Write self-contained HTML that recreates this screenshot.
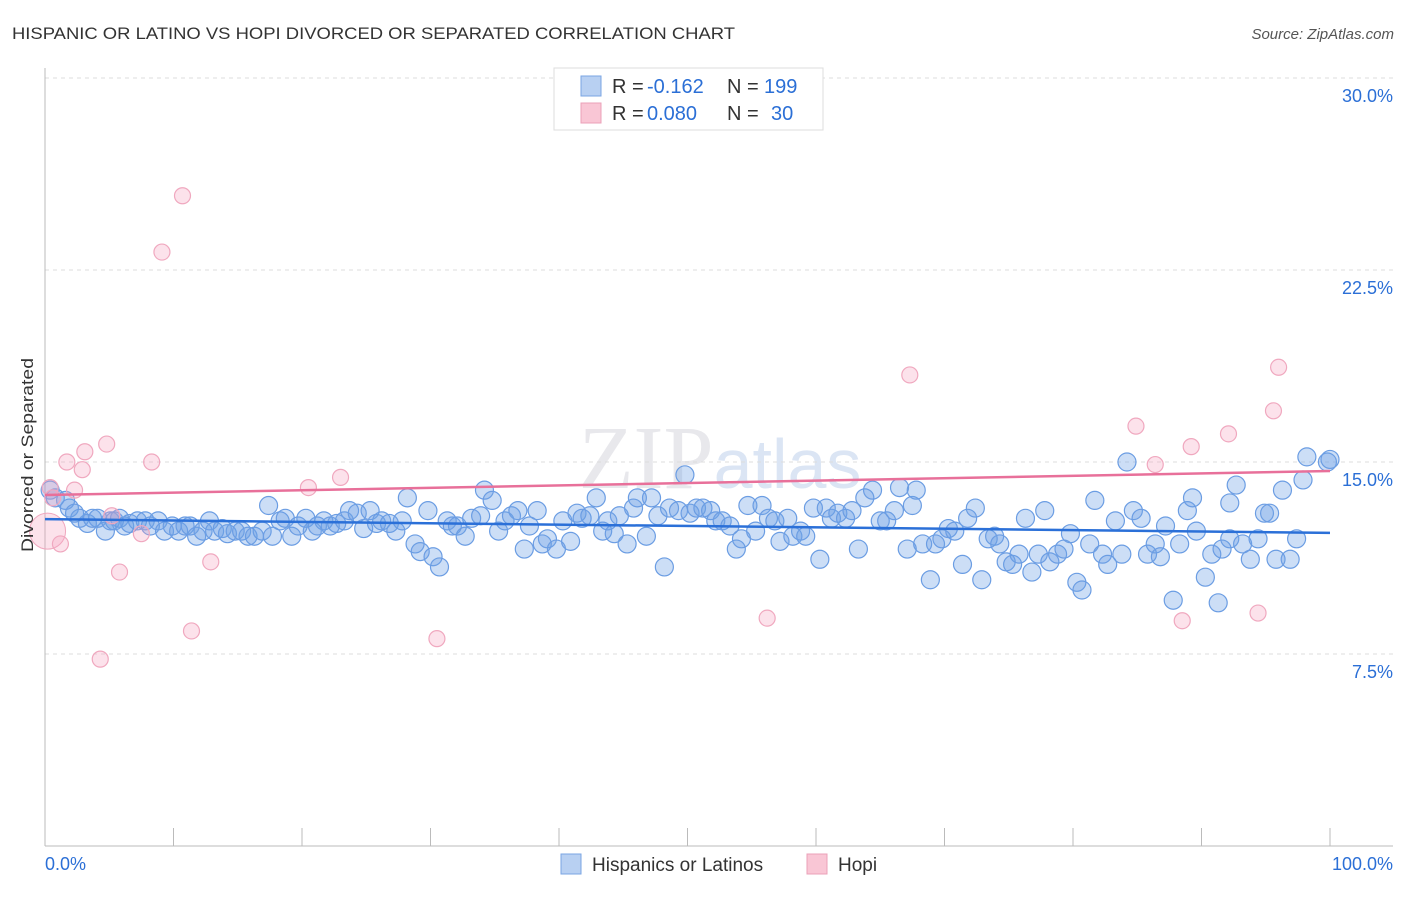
<!DOCTYPE html>
<html><head><meta charset="utf-8"><style>
body{margin:0;background:#fff;font-family:"Liberation Sans",sans-serif;}
</style></head><body>
<svg width="1406" height="892" xmlns="http://www.w3.org/2000/svg" style="font-family:'Liberation Sans',sans-serif">
<text x="12" y="39" font-size="17" fill="#333" textLength="723" lengthAdjust="spacingAndGlyphs">HISPANIC OR LATINO VS HOPI DIVORCED OR SEPARATED CORRELATION CHART</text>
<text x="1394" y="39" font-size="15" fill="#555" text-anchor="end" font-style="italic">Source: ZipAtlas.com</text>
<text x="720" y="488" font-size="90" fill="#e8e8ec" text-anchor="middle" font-family="Liberation Serif">ZIP<tspan fill="#dbe5f4" font-family="Liberation Sans" font-size="70">atlas</tspan></text>
<g id="grid"></g>
<g id="axes"></g>
<g id="pts"></g>
<g id="lines"></g>
<text x="33" y="455" font-size="17" fill="#333" text-anchor="middle" transform="rotate(-90 33 455)" textLength="194" lengthAdjust="spacingAndGlyphs">Divorced or Separated</text>
<g>
<rect x="554" y="68" width="269" height="62" fill="#fff" stroke="#ddd"/>
<rect x="581" y="76" width="20" height="20" fill="#b8d0f2" stroke="#7aa5e3"/>
<rect x="581" y="103" width="20" height="20" fill="#f9c6d5" stroke="#eba0b8"/>
<text x="612" y="93" font-size="20" fill="#333">R =</text>
<text x="647" y="93" font-size="20" fill="#2b6fd6">-0.162</text>
<text x="727" y="93" font-size="20" fill="#333">N =</text>
<text x="764" y="93" font-size="20" fill="#2b6fd6">199</text>
<text x="612" y="120" font-size="20" fill="#333">R =</text>
<text x="647" y="120" font-size="20" fill="#2b6fd6">0.080</text>
<text x="727" y="120" font-size="20" fill="#333">N =</text>
<text x="771" y="120" font-size="20" fill="#2b6fd6">30</text>
</g>
<g>
<rect x="561" y="854" width="20" height="20" fill="#b8d0f2" stroke="#7aa5e3"/>
<text x="592" y="871" font-size="19" fill="#333">Hispanics or Latinos</text>
<rect x="807" y="854" width="20" height="20" fill="#f9c6d5" stroke="#eba0b8"/>
<text x="838" y="871" font-size="19" fill="#333">Hopi</text>
</g>
</svg>
<script>
const yTicks=[7.5,15,22.5,30];
const yTickLabels=["7.5%","15.0%","22.5%","30.0%"];
const xTickLabels=["0.0%","100.0%"];
const blueX=[0.4,0.8,1.6,1.9,2.3,2.7,3.3,3.7,4.1,4.7,5.1,5.4,5.8,6.2,6.6,7.2,7.8,8.2,8.8,9.3,9.9,10.4,10.9,11.3,11.8,12.3,12.8,13.2,13.8,14.2,14.8,15.3,15.8,16.3,16.9,17.4,17.7,18.3,18.7,19.2,19.7,20.3,20.8,21.2,21.7,22.2,22.7,23.3,23.7,24.3,24.8,25.3,25.8,26.2,26.8,27.3,27.8,28.2,28.8,29.2,29.8,30.2,30.7,31.3,31.7,32.1,32.7,33.2,33.9,34.2,34.8,35.3,35.8,36.3,36.8,37.3,37.7,38.3,38.7,39.1,39.8,40.3,40.9,41.4,41.8,42.4,42.9,43.4,43.8,44.3,44.7,45.3,45.8,46.1,46.8,47.2,47.7,48.2,48.6,49.3,49.8,50.2,50.7,51.2,51.8,52.2,52.7,53.3,53.8,54.2,54.7,55.3,55.8,56.3,56.8,57.2,57.8,58.2,58.8,59.2,59.8,60.3,60.8,61.2,61.7,62.3,62.8,63.3,63.8,64.4,65.0,65.5,66.1,66.5,67.1,67.5,67.8,68.3,68.9,69.3,69.8,70.3,70.8,71.4,71.8,72.4,72.9,73.4,73.9,74.3,74.8,75.3,75.8,76.3,76.8,77.3,77.8,78.2,78.8,79.3,79.8,80.3,80.7,81.3,81.7,82.3,82.7,83.3,83.8,84.2,84.7,85.3,85.8,86.4,86.8,87.2,87.8,88.3,88.9,89.3,89.6,90.3,90.8,91.3,91.6,92.2,92.7,93.2,93.8,94.4,94.9,95.3,95.8,96.3,96.9,97.4,97.9,98.2,99.8,100,92.2];
const blueY=[13.9,13.6,13.5,13.2,13.0,12.8,12.6,12.8,12.8,12.3,12.7,12.7,12.8,12.5,12.6,12.7,12.7,12.5,12.7,12.3,12.5,12.3,12.5,12.5,12.1,12.3,12.7,12.3,12.4,12.2,12.3,12.3,12.1,12.1,12.3,13.3,12.1,12.7,12.8,12.1,12.5,12.8,12.3,12.5,12.7,12.5,12.6,12.7,13.1,13.0,12.4,13.1,12.6,12.7,12.6,12.3,12.7,13.6,11.8,11.5,13.1,11.3,10.9,12.7,12.5,12.5,12.1,12.8,12.9,13.9,13.5,12.3,12.7,12.9,13.1,11.6,12.5,13.1,11.8,12.0,11.6,12.7,11.9,13.0,12.8,12.9,13.6,12.3,12.7,12.2,12.9,11.8,13.2,13.6,12.1,13.6,12.9,10.9,13.2,13.1,14.5,13.0,13.2,13.2,13.1,12.7,12.7,12.5,11.6,12.0,13.3,12.3,13.3,12.8,12.7,11.9,12.8,12.1,12.3,12.1,13.2,11.2,13.2,12.8,13.0,12.8,13.1,11.6,13.6,13.9,12.7,12.7,13.1,14.0,11.6,13.3,13.9,11.8,10.4,11.8,12.0,12.4,12.3,11.0,12.8,13.2,10.4,12.0,12.1,11.8,11.1,11.0,11.4,12.8,10.7,11.4,13.1,11.1,11.4,11.6,12.2,10.3,10.0,11.8,13.5,11.4,11.0,12.7,11.4,15.0,13.1,12.8,11.4,11.8,11.3,12.5,9.6,11.8,13.1,13.6,12.3,10.5,11.4,9.5,11.6,12.0,14.1,11.8,11.2,12.0,13.0,13.0,11.2,13.9,11.2,12.0,14.3,15.2,15.0,15.1,13.4];
const pinkX=[0.4,0.6,1.2,1.7,2.3,3.1,2.9,4.3,4.8,5.2,5.8,7.5,8.3,9.1,10.7,11.4,12.9,20.5,23.0,30.5,56.2,67.3,84.9,86.4,88.5,89.2,92.1,94.4,95.6,96.0];
const pinkY=[14.0,13.6,11.8,15.0,13.9,15.4,14.7,7.3,15.7,12.9,10.7,12.2,15.0,23.2,25.4,8.4,11.1,14.0,14.4,8.1,8.9,18.4,16.4,14.9,8.8,15.6,16.1,9.1,17.0,18.7];
const blueTrend=[12.77,12.23];
const pinkTrend=[13.71,14.65];
const NS="http://www.w3.org/2000/svg";
const X=v=>45+v*12.85, Y=v=>846-v*25.6;
function mk(tag,attrs,parent){const e=document.createElementNS(NS,tag);for(const k in attrs)e.setAttribute(k,attrs[k]);document.getElementById(parent).appendChild(e);return e;}
yTicks.forEach((t,i)=>{
 const g=mk('line',{x1:45,x2:1393,y1:Y(t),y2:Y(t),stroke:'#ddd','stroke-dasharray':'4,4'},'grid');
 
 
 const l=mk('text',{x:1393,y:Y(t)+24,'font-size':18,fill:'#2b6fd6','text-anchor':'end'},'grid');
 l.textContent=yTickLabels[i];
 
 
});
const ax=mk('line',{x1:45,x2:1393,y1:846,y2:846,stroke:'#bbb'},'axes');


const ay=mk('line',{x1:45,x2:45,y1:68,y2:846,stroke:'#bbb'},'axes');


for(let i=0;i<=10;i++){const t=mk('line',{x1:X(i*10),x2:X(i*10),y1:828,y2:846,stroke:'#bbb'},'axes');
 
 }
[[0,'start',45],[100,'end',1393]].forEach((d,i)=>{const t=mk('text',{x:d[2],y:870,'font-size':18,fill:'#2b6fd6','text-anchor':d[1]},'axes');t.textContent=xTickLabels[i];
 
 });
const big=mk('circle',{cx:X(0.2),cy:Y(12.3),r:18,fill:'rgba(245,160,190,0.3)',stroke:'#f0a8bf'},'pts');


blueX.forEach((x,i)=>{const c=mk('circle',{cx:X(x),cy:Y(blueY[i]),r:9,fill:'rgba(110,160,230,0.35)',stroke:'#6b9de3','stroke-width':1.2},'pts');
 
 });
pinkX.forEach((x,i)=>{const c=mk('circle',{cx:X(x),cy:Y(pinkY[i]),r:8,fill:'rgba(245,160,190,0.3)',stroke:'#f0a8bf','stroke-width':1.2},'pts');
 
 });
const bl=mk('line',{x1:X(0),x2:X(100),y1:Y(blueTrend[0]),y2:Y(blueTrend[1]),stroke:'#2b70d8','stroke-width':2.5},'lines');


const pl=mk('line',{x1:X(0),x2:X(100),y1:Y(pinkTrend[0]),y2:Y(pinkTrend[1]),stroke:'#e8709a','stroke-width':2.5},'lines');


</script>
</body></html>
